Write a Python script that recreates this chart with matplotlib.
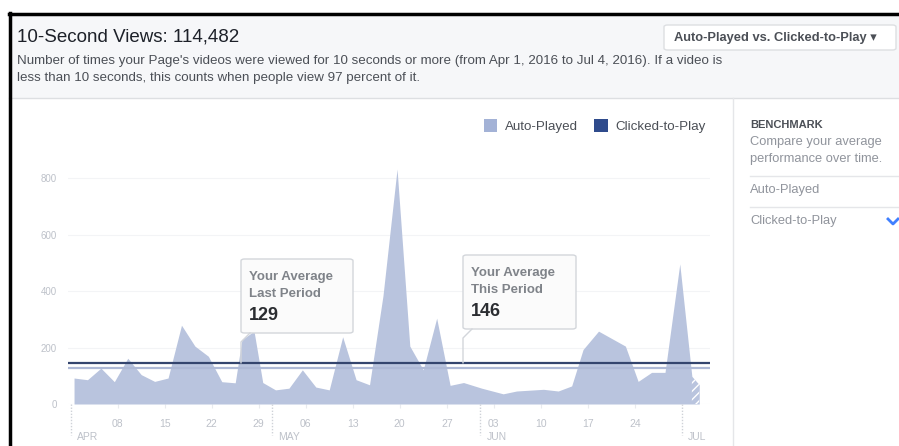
import numpy as np
import matplotlib.pyplot as plt
from matplotlib.patches import Rectangle, FancyBboxPatch, Patch
from matplotlib.lines import Line2D
import matplotlib.transforms as mtransforms

plt.rcParams['font.family'] = ['Liberation Sans', 'DejaVu Sans']

# Daily 10-second views, auto-played (day offset from Apr 1, 2016)
days = [0.5, 2.5, 4.5, 6.5, 8.5, 10.5, 12.5, 14.5, 16.5, 18.5, 20.5, 22.5,
        24.5, 25.5, 27.3, 28.6, 30.5, 32.5, 34.5, 36.5, 38.5, 40.5, 42.5,
        44.5, 46.5, 48.6, 50.5, 52.5, 54.5, 56.5, 58.5, 61.2, 64.4, 66.4,
        70.4, 72.6, 74.6, 76.3, 78.6, 82.6, 84.5, 86.5, 88.5, 90.7, 92.5, 93.6]
views = [92, 86, 127, 79, 162, 104, 80, 92, 279, 205, 169, 79,
         75, 228, 258, 76, 50, 56, 121, 60, 50, 238, 86,
         68, 383, 832, 205, 121, 304, 66, 76, 56, 36, 46,
         52, 46, 64, 193, 258, 205, 80, 112, 112, 496, 98, 68]

avg_last = 129
avg_this = 146

day_ticks = [7, 14, 21, 28, 35, 42, 49, 56, 63, 70, 77, 84]
day_labels = ['08', '15', '22', '29', '06', '13', '20', '27', '03', '10', '17', '24']
month_starts = [0, 30, 61, 91]
month_labels = ['APR', 'MAY', 'JUN', 'JUL']

W, H = 899, 446
fig = plt.figure(figsize=(W / 100, H / 100), dpi=100)
fig.patch.set_facecolor('white')


def fx(px):
    return px / W


def fy(py):
    return 1 - py / H


# header panel
fig.patches.append(Rectangle((fx(9), fy(98)), fx(890), 84 / H, transform=fig.transFigure,
                             facecolor='#f6f7f9', edgecolor='none', zorder=0))
fig.add_artist(Line2D([fx(9), 1], [fy(98), fy(98)], color='#dddfe2', lw=1))
# black frame
fig.add_artist(Line2D([fx(10), fx(10)], [fy(13), 0], color='black', lw=2.5))
fig.add_artist(Line2D([fx(9), 1], [fy(14), fy(14)], color='black', lw=2.5))

fig.text(fx(17), fy(37), '10-Second Views: 114,482', fontsize=13.5, color='#1d2129', va='center')
fig.text(fx(17), fy(61), "Number of times your Page's videos were viewed for 10 seconds or more "
         "(from Apr 1, 2016 to Jul 4, 2016). If a video is",
         fontsize=9.6, color='#4b4f56', va='center')
fig.text(fx(17), fy(78), 'less than 10 seconds, this counts when people view 97 percent of it.',
         fontsize=9.6, color='#4b4f56', va='center')

# dropdown button
fig.patches.append(FancyBboxPatch((fx(664), fy(50)), fx(232), 25 / H, transform=fig.transFigure,
                                  boxstyle='round,pad=0,rounding_size=0.004',
                                  facecolor='white', edgecolor='#dddfe2', lw=1))
fig.text(fx(674), fy(38), 'Auto-Played vs. Clicked-to-Play \u25be', fontsize=9.3,
         fontweight='bold', color='#4b4f56', va='center')

# right benchmark panel
fig.add_artist(Line2D([fx(733), fx(733)], [fy(98), 0], color='#e5e6e9', lw=1))
fig.text(fx(750), fy(125), 'BENCHMARK', fontsize=8, fontweight='bold', color='#4b4f56', va='center')
fig.text(fx(750), fy(142), 'Compare your average', fontsize=9.3, color='#90949c', va='center')
fig.text(fx(750), fy(159), 'performance over time.', fontsize=9.3, color='#90949c', va='center')
fig.add_artist(Line2D([fx(750), 1], [fy(176), fy(176)], color='#e5e6e9', lw=1))
fig.text(fx(750), fy(190), 'Auto-Played', fontsize=9.3, color='#90949c', va='center')
fig.add_artist(Line2D([fx(750), 1], [fy(207), fy(207)], color='#e5e6e9', lw=1))
fig.text(fx(750), fy(221), 'Clicked-to-Play', fontsize=9.3, color='#90949c', va='center')
fig.add_artist(Line2D([fx(888), fx(893), fx(898)], [fy(219), fy(224), fy(219)],
                      color='#4080ff', lw=2))

# main chart
ax = fig.add_axes([fx(68), fy(404), fx(710 - 68), 244 / H])
ax.set_xlim(-0.4, 95.2)
ax.set_ylim(0, 864)
for s in ax.spines.values():
    s.set_visible(False)

area_color = '#b9c4de'
ax.fill_between(days, views, 0, color=area_color, lw=0, zorder=2)
ax.fill_between(days[-2:], views[-2:], 0, facecolor='none', edgecolor='white',
                hatch='////', lw=0, zorder=3)

ax.set_yticks([0, 200, 400, 600, 800])
ax.yaxis.grid(True, color='#f3f4f6', lw=0.8)
ax.set_axisbelow(True)
ax.tick_params(axis='y', length=0, labelsize=7, labelcolor='#bdc1c9', pad=8)

ax.set_xticks(day_ticks)
ax.set_xticklabels(day_labels)
ax.tick_params(axis='x', length=3, width=0.8, color='#e9ebee', labelsize=7.5,
               labelcolor='#bdc1c9', pad=8)

ax.axhline(avg_last, color='#aeb9d6', lw=1.6, zorder=4)
ax.axhline(avg_this, color='#34456e', lw=1.6, zorder=4)

trans = mtransforms.blended_transform_factory(ax.transData, ax.transAxes)
for d, m in zip(month_starts, month_labels):
    ax.plot([d, d], [0, -0.125], transform=trans, color='#cfd2d8', lw=1,
            ls=(0, (1, 1.2)), clip_on=False)
    ax.text(d + 0.9, -0.115, m, transform=trans, fontsize=7.5, color='#bdc1c9',
            va='top', ha='left')

# legend
handles = [Patch(facecolor='#a3b2d6', edgecolor='none', label='Auto-Played'),
           Patch(facecolor='#2f4b8c', edgecolor='none', label='Clicked-to-Play')]
fig.legend(handles=handles, loc='center right', bbox_to_anchor=(fx(718), fy(126)),
           ncol=2, frameon=False, fontsize=9.6, handlelength=1.0, handleheight=1.1,
           handletextpad=0.6, columnspacing=1.2, labelcolor='#4b4f56')


# callouts anchored on the average line
def callout(day, val, left, top, w, h, line1, line2, number):
    x0, y0 = ax.transData.transform((day, val))
    tail_y = H - y0
    box = FancyBboxPatch((fx(left), fy(top + h)), fx(w), h / H, transform=fig.transFigure,
                         boxstyle='round,pad=0,rounding_size=0.004',
                         facecolor='#fbfbfb', edgecolor='#d3d6db', lw=1, zorder=1)
    fig.patches.append(box)
    fig.add_artist(Line2D([fx(left), fx(left), fx(left + 9)],
                          [fy(tail_y), fy(top + h + 9), fy(top + h)],
                          color='#d3d6db', lw=1))
    fig.text(fx(left + 8), fy(top + 18), line1, fontsize=9.5, fontweight='bold',
             color='#7f8389', va='center', zorder=6)
    fig.text(fx(left + 8), fy(top + 35), line2, fontsize=9.5, fontweight='bold',
             color='#7f8389', va='center', zorder=6)
    fig.text(fx(left + 8), fy(top + 56), number, fontsize=13, fontweight='bold',
             color='#2b2d31', va='center', zorder=6)


callout(25.3, avg_this, 241, 259, 112, 74, 'Your Average', 'Last Period', str(avg_last))
callout(58.5, avg_this, 463, 255, 113, 74, 'Your Average', 'This Period', str(avg_this))

fig.savefig('out.png', dpi=100)
